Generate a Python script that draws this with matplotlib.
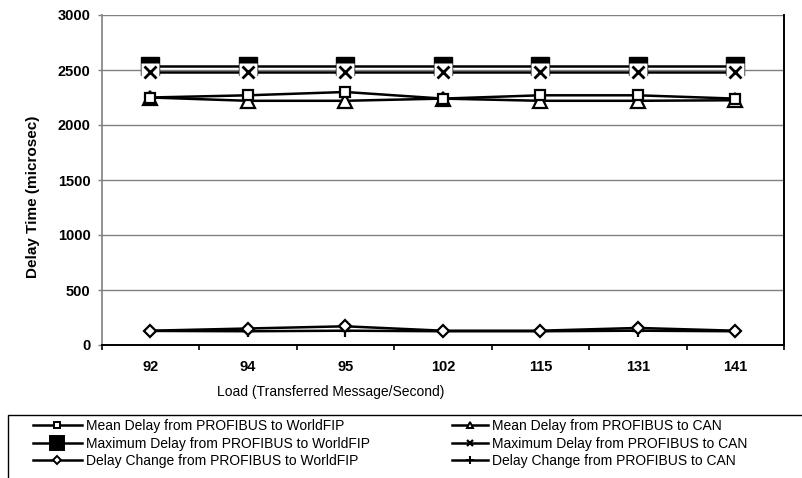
import matplotlib
matplotlib.use("Agg")
import matplotlib.pyplot as plt
from matplotlib.lines import Line2D
from matplotlib.patches import Rectangle
import numpy as np

plt.rcParams["font.family"] = ["Liberation Sans", "DejaVu Sans"]

# Load values (transferred messages per second)
loads = ["92", "94", "95", "102", "115", "131", "141"]

# Delay times in microseconds
mean_wfip = [2250, 2270, 2300, 2240, 2270, 2270, 2240]
mean_can = [2250, 2220, 2220, 2240, 2220, 2220, 2225]
max_wfip = [2535, 2535, 2535, 2535, 2535, 2535, 2535]
max_can = [2485, 2485, 2485, 2485, 2485, 2485, 2485]
change_wfip = [130, 150, 170, 130, 130, 155, 130]
change_can = [128, 125, 130, 125, 125, 130, 125]

labels = [
    "Mean Delay from PROFIBUS to WorldFIP",
    "Mean Delay from PROFIBUS to CAN",
    "Maximum Delay from PROFIBUS to WorldFIP",
    "Maximum Delay from PROFIBUS to CAN",
    "Delay Change from PROFIBUS to WorldFIP",
    "Delay Change from PROFIBUS to CAN",
]

W, H = 803, 478
fig = plt.figure(figsize=(W / 100, H / 100), dpi=100)
ax = fig.add_axes([101.7 / W, 1 - 345 / H, (784 - 101.7) / W, (345 - 15) / H])

x = np.arange(len(loads))
lw = 1.8

# Maximum delays (drawn first so the CAN marker box sits on top)
ax.plot(x, max_wfip, color="black", lw=lw, marker="s", markersize=13.5,
        markerfacecolor="black", markeredgecolor="black", zorder=3)
ax.plot(x, max_can, color="black", lw=lw, zorder=4)
ax.plot(x, max_can, linestyle="none", marker="s", markersize=13.0,
        markerfacecolor="white", markeredgecolor="none", zorder=5)
ax.plot(x, max_can, linestyle="none", marker="x", markersize=9,
        markeredgewidth=2.0, color="black", zorder=6)

# Mean delays
ax.plot(x, mean_can, color="black", lw=lw, marker="^", markersize=9.5,
        markerfacecolor="white", markeredgecolor="black", markeredgewidth=1.6, zorder=4)
ax.plot(x, mean_wfip, color="black", lw=lw, marker="s", markersize=7.5,
        markerfacecolor="white", markeredgecolor="black", markeredgewidth=1.6, zorder=4)

# Delay changes
ax.plot(x, change_can, color="black", lw=lw, marker="+", markersize=9,
        markeredgewidth=1.6, zorder=4)
ax.plot(x, change_wfip, color="black", lw=lw, marker="D", markersize=6,
        markerfacecolor="white", markeredgecolor="black", markeredgewidth=1.6, zorder=4)

# Axes styling
ax.set_xlim(-0.5, len(loads) - 0.5)
ax.set_ylim(0, 3000)
ax.set_yticks(np.arange(0, 3001, 500))
ax.yaxis.grid(True, color="#808080", lw=1.0)
ax.set_axisbelow(True)

ax.spines["top"].set_visible(False)
ax.spines["left"].set_color("#808080")
ax.spines["left"].set_linewidth(1.2)
ax.spines["bottom"].set_color("black")
ax.spines["bottom"].set_linewidth(1.4)
ax.spines["right"].set_color("black")
ax.spines["right"].set_linewidth(1.4)

ax.set_xticks(x)
ax.set_xticklabels(loads, fontsize=10.5, fontweight="bold")
ax.set_xticks(np.arange(-0.5, len(loads), 1.0), minor=True)
ax.tick_params(axis="x", which="major", length=0, pad=11)
ax.tick_params(axis="x", which="minor", length=3.5, width=1.2, color="black", direction="out")
ax.tick_params(axis="y", length=3, width=1.0, color="#808080", pad=5)
for t in ax.get_yticklabels():
    t.set_fontsize(10.5)
    t.set_fontweight("bold")

fig.text(33 / W, 1 - 197 / H, "Delay Time (microsec)", rotation=90,
         ha="center", va="center", fontsize=11, fontweight="bold")
fig.text(331 / W, 1 - 392 / H, "Load (Transferred Message/Second)",
         ha="center", va="center", fontsize=10)

# Legend
def handle(marker, ms, face, mew=1.4):
    return Line2D([0], [0], color="black", lw=1.8, marker=marker, markersize=ms,
                  markerfacecolor=face, markeredgecolor="black", markeredgewidth=mew)

h_mean_wfip = handle("s", 4.5, "white")
h_mean_can = handle("^", 5, "white")
h_max_wfip = handle("s", 10, "black")
h_max_can = handle("x", 5, "black", 1.6)
h_chg_wfip = handle("D", 4, "white")
h_chg_can = handle("+", 6, "black")

common = dict(loc="upper left", frameon=False, fontsize=10,
              handletextpad=0.3, borderpad=0, borderaxespad=0, labelspacing=0.26)
fig.legend([h_mean_wfip, h_max_wfip, h_chg_wfip], [labels[0], labels[2], labels[4]],
           bbox_to_anchor=(33 / W, 1 - 419 / H), handlelength=3.5, **common)
fig.legend([h_mean_can, h_max_can, h_chg_can], [labels[1], labels[3], labels[5]],
           bbox_to_anchor=(452 / W, 1 - 419 / H), handlelength=2.6, **common)

fig.patches.append(Rectangle((8 / W, -0.05), (W + 20 - 8) / W, 1 - 415 / H + 0.05,
                             transform=fig.transFigure, fill=False,
                             edgecolor="black", lw=1.0, clip_on=False))

fig.savefig("out.png", dpi=100)
